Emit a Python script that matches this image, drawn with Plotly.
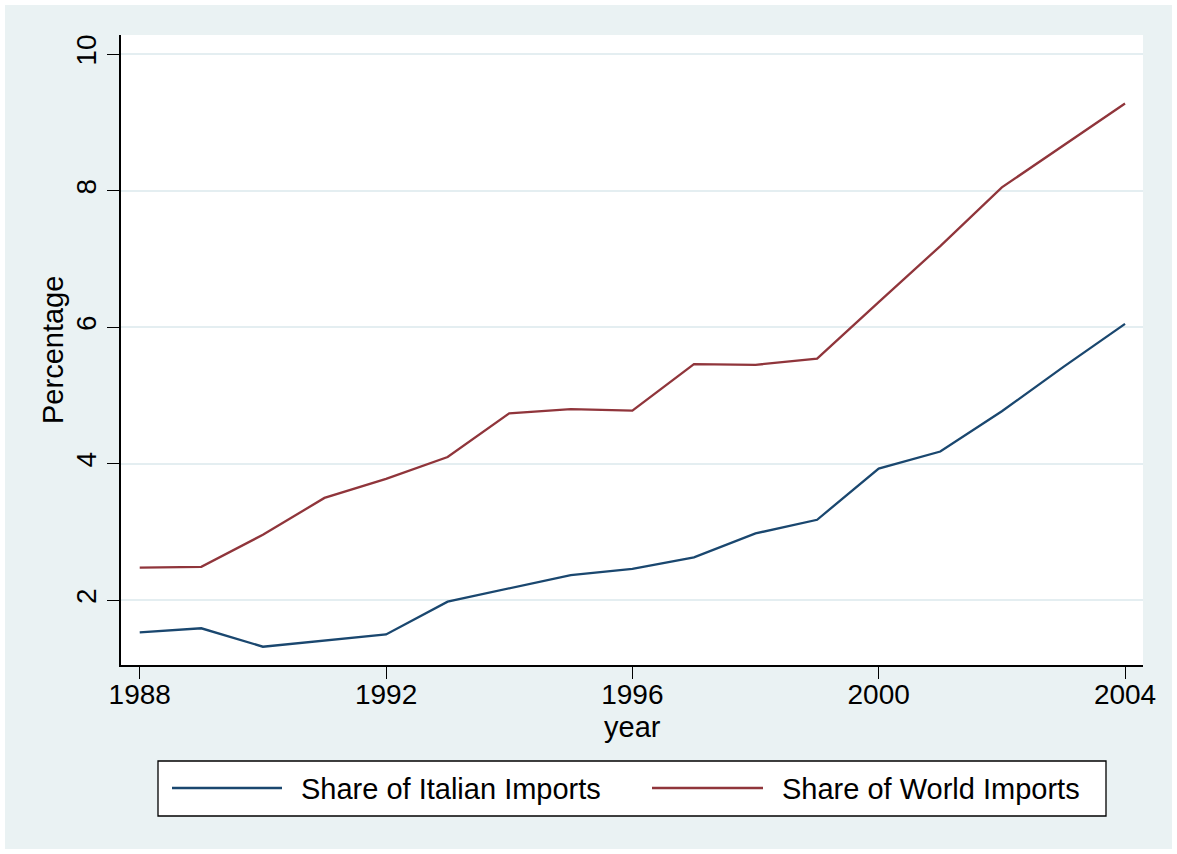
import plotly.graph_objects as go

years = list(range(1988, 2005))
italian_share = [1.53, 1.59, 1.32, 1.41, 1.50, 1.98, 2.18, 2.37, 2.46, 2.63, 2.98, 3.18, 3.93, 4.18, 4.77, 5.42, 6.05]
world_share = [2.48, 2.49, 2.96, 3.50, 3.78, 4.10, 4.74, 4.80, 4.78, 5.46, 5.45, 5.54, 6.37, 7.19, 8.05, 8.66, 9.28]
series_names = ["Share of Italian Imports", "Share of World Imports"]
x_ticks = [1988, 1992, 1996, 2000, 2004]
y_ticks = [2, 4, 6, 8, 10]

BLUE = "#1a476f"
RED = "#90353b"
BG = "#EAF2F3"
FONT = "Liberation Sans, Arial, sans-serif"

W, H = 1177, 854
L, R, T, B = 121, 34, 35, 189
pw, ph = W - L - R, H - T - B


def px(xp):
    return (xp - L) / pw


def py(yp):
    return (H - B - yp) / ph


fig = go.Figure()
fig.add_trace(go.Scatter(x=years, y=italian_share, mode="lines", name=series_names[0],
                         line=dict(color=BLUE, width=2.3), showlegend=False))
fig.add_trace(go.Scatter(x=years, y=world_share, mode="lines", name=series_names[1],
                         line=dict(color=RED, width=2.3), showlegend=False))

shapes = [
    # graph region background
    dict(type="rect", xref="paper", yref="paper", x0=px(5), x1=px(1172), y0=py(849), y1=py(5),
         fillcolor=BG, line=dict(width=0), layer="below"),
    # plot region
    dict(type="rect", xref="paper", yref="paper", x0=0, x1=1, y0=0, y1=1,
         fillcolor="white", line=dict(width=0), layer="below"),
    # legend box
    dict(type="rect", xref="paper", yref="paper", x0=px(158), x1=px(1106), y0=py(816), y1=py(761),
         fillcolor="white", line=dict(color="black", width=1.3)),
    dict(type="line", xref="paper", yref="paper", x0=px(172), x1=px(282), y0=py(788), y1=py(788),
         line=dict(color=BLUE, width=2.3)),
    dict(type="line", xref="paper", yref="paper", x0=px(652), x1=px(763), y0=py(788), y1=py(788),
         line=dict(color=RED, width=2.3)),
]

txt = dict(family=FONT, size=29, color="black")
annotations = [
    dict(text=series_names[0], xref="paper", yref="paper", x=px(299), y=py(789),
         xanchor="left", yanchor="middle", showarrow=False, font=txt),
    dict(text=series_names[1], xref="paper", yref="paper", x=px(780), y=py(789),
         xanchor="left", yanchor="middle", showarrow=False, font=txt),
    # axis titles
    dict(text="year", xref="paper", yref="paper", x=0.5, y=py(727),
         xanchor="center", yanchor="middle", showarrow=False, font=txt),
    dict(text="Percentage", xref="paper", yref="paper", x=px(53), y=py(350),
         xanchor="center", yanchor="middle", showarrow=False, textangle=-90, font=txt),
]

fig.update_layout(
    width=W, height=H,
    margin=dict(l=L, r=R, t=T, b=B, pad=0),
    paper_bgcolor="white", plot_bgcolor="white",
    font=dict(family=FONT, size=28, color="black"),
    shapes=shapes, annotations=annotations,
    xaxis=dict(range=[1987.696, 2004.292], tickvals=x_ticks, ticks="outside", ticklen=12,
               tickwidth=1.3, tickcolor="black", showline=True, linecolor="black", linewidth=1.5,
               showgrid=False, zeroline=False, tickfont=dict(size=28), ticklabelstandoff=-8),
    yaxis=dict(range=[1.052, 10.283], tickvals=y_ticks, ticks="outside", ticklen=12,
               tickwidth=1.3, tickcolor="black", showline=True, linecolor="black", linewidth=1.5,
               showgrid=True, gridcolor="#E4EEF1", gridwidth=1.6, zeroline=False,
               tickangle=-90, tickfont=dict(size=28)),
)

fig.write_html("out.html", config={"displayModeBar": False},
               post_script="document.body.style.margin='0';document.body.style.overflow='hidden';")
